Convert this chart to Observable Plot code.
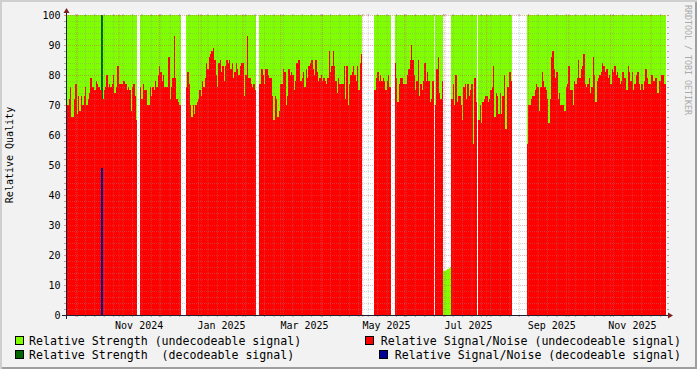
<!DOCTYPE html>
<html><head><meta charset="utf-8">
<script src="https://cdn.jsdelivr.net/npm/d3@7"></script>
<script src="https://cdn.jsdelivr.net/npm/@observablehq/plot@0.6"></script>
<style>
html,body{margin:0;padding:0;background:#f2f2f2;}
#wrap{position:relative;width:697px;height:369px;background:#f2f2f2;overflow:hidden;font-family:"DejaVu Sans Mono",monospace;color:#000;}
#chart{position:absolute;left:0;top:0;}
#shade{position:absolute;left:0;top:0;width:697px;height:369px;box-shadow:inset 2px 2px 0 #cfcfcf, inset -2px -2px 0 #9e9e9e;pointer-events:none;}
.lg{position:absolute;font-size:11.6px;line-height:14px;white-space:pre;}
.sw{position:absolute;width:9px;height:9px;box-sizing:border-box;border:1px solid #000;}
#ylab{position:absolute;left:10px;top:155px;font-size:10px;line-height:10px;white-space:pre;transform:translate(-50%,-50%) rotate(-90deg);}
#wm{position:absolute;left:683px;top:5px;font-size:8.3px;line-height:9px;writing-mode:vertical-rl;color:#aaa;white-space:pre;}
</style></head>
<body><div id="wrap"><div id="chart"></div>
<div id="ylab">Relative Quality</div>
<div id="wm">RRDTOOL / TOBI OETIKER</div>
<div id="legend"></div>
<div id="shade"></div></div>
<script>
// ---------- data ----------
// first day of each contiguous run of daily SNR (undecodeable) values
const segStarts = ["2024-09-23","2024-11-17","2024-12-21","2025-02-13","2025-05-10","2025-05-25","2025-06-24","2025-07-06","2025-07-26","2025-08-31"];
const snr1 = [77,70,72,76,66,66,72,77,67,73, 68,73,70,73,76,70,72,74,79,76, 76,75,78,77,76,75,75,72,75,76, 80,76,77,76,77,80,74,76,83,77, 77,77,78,78,77,75,76,75,68,76, 77,73,65];
const snr2 = [76,72,77,75,75,70,70,76,73,76, 75,78,76,80,83,81,78,80,76,76, 76,86,72,76,79,93,79,72,71,70];
const snr3 = [76,81,77,70,66,70,67,70,71,72, 75,73,78,76,79,84,82,86,87,88, 89,85,80,76,84,85,81,83,78,83, 85,84,85,82,84,79,81,84,82,80, 83,84,84,73,80,93,79,79,77,76, 77,75];
const snr4 = [77,77,82,80,77,82,82,80,79,79, 73,65,73,72,66,68,77,77,82,81, 70,73,82,80,81,80,75,78,84,85, 85,78,79,81,76,82,79,83,84,85, 82,80,85,81,78,79,80,78,79,78, 77,79,88,81,83,88,83,78,74,79, 77,77,77,83,72,83,70,77,80,81, 83,80,78,83,75,84,87];
const snr5 = [75,79,81,78,80,78,79,78,75,78,80,76];
const snr6 = [84,79,71,77,79,79,77,77,77,80, 82,85,90,85,80,75,78,85,73,77, 75,78,84,78,81,78,71,72,78];
const snr7 = [70,82,86,74,72,78];
const snr9 = [72,77,70,80,71,73,73,70,65,76, 77,72,77,73,75,77,57,79,71];
const snr10 = [65,70,64,71,72,73,73,71,72,75, 76,83,66,74,73,67,74,67,73,80, 62,76,76,81,78];
const snr11 = [57,70,70,72,73,73,75,77,76,68, 76,81,78,76,75,72,64,72,86,88, 82,79,81,72,74,70,70,70,68,76, 77,83,75,75,70,78,77,79,85,79, 82,83,87,77,76,77,79,74,76,86, 80,71,78,79,80,81,84,83,81,82, 79,80,77,82,81,83,80,81,79,77, 78,81,79,79,75,83,81,78,81,75, 77,80,81,77,75,77,75,78,82,79, 77,77,80,80,78,79,79,74,78,78, 80,80,77,77];
const snrSegments = [snr1,snr2,snr3,snr4,snr5,snr6,snr7,snr9,snr10,snr11];
// strength (undecodeable) reaches the top on every day with SNR data
const strengthOnSnrDays = 100;
// days with low strength and no SNR
const lowStrengthStart = "2025-06-30";
const lowStrength = [14.8,14.8,15,15.2,15.6,16];
// decodeable signal (single day)
const decodeDays = ["2024-10-19"];
const decodeStrength = [100];
const decodeSnr = [49];

const yLabelTicks = [0,10,20,30,40,50,60,70,80,90,100];
const xLabelDates = ["2024-11-15T22:00Z","2025-01-16T02:00Z","2025-03-18T17:00Z","2025-05-18T14:00Z","2025-07-18T10:00Z","2025-09-18T05:00Z","2025-11-17T02:00Z"];
const xLabelTexts = ["Nov 2024","Jan 2025","Mar 2025","May 2025","Jul 2025","Sep 2025","Nov 2025"];

const legendLabels = ["Relative Strength (undecodeable signal)","Relative Strength  (decodeable signal)","Relative Signal/Noise (undecodeable signal)","Relative Signal/Noise (decodeable signal)"];
const colors = {strengthU:"#80ff00", strengthD:"#006600", snrU:"#ff0000", snrD:"#000099"};

// ---------- build rows ----------
const DAY = 864e5;
const dayOf = s => new Date(s + "T00:00:00Z").getTime();
const strengthRows = [], snrRows = [];
snrSegments.forEach((arr, k) => {
  const s = dayOf(segStarts[k]);
  arr.forEach((v, j) => {
    const a = new Date(s + j*DAY), b = new Date(s + (j+1)*DAY);
    snrRows.push({x1:a, x2:b, v});
    strengthRows.push({x1:a, x2:b, v:strengthOnSnrDays});
  });
});
{
  const s = dayOf(lowStrengthStart);
  lowStrength.forEach((v, j) => strengthRows.push({x1:new Date(s+j*DAY), x2:new Date(s+(j+1)*DAY), v}));
}
const decStrRows = decodeDays.map((d,i)=>({x1:new Date(dayOf(d)), x2:new Date(dayOf(d)+DAY), v:decodeStrength[i]}));
const decSnrRows = decodeDays.map((d,i)=>({x1:new Date(dayOf(d)), x2:new Date(dayOf(d)+DAY), v:decodeSnr[i]}));

const xStart = new Date(Date.UTC(2024,8,23));
const xEnd = new Date(xStart.getTime() + 445.4*DAY);
const months = d3.utcMonth.range(xStart, xEnd).filter(d => d > xStart);
const monthSet = new Set(months.map(d=>+d));
const weeks = d3.utcMonday.range(xStart, xEnd).filter(d => d > xStart && !monthSet.has(+d));
const yMinor = d3.range(2, 100, 2).filter(v => v % 10 !== 0);
const yMajor = d3.range(10, 101, 10);
const labelDates = xLabelDates.map(s => new Date(s));

const gridMinor = {stroke:"#8f8f8f", strokeOpacity:0.38};
const gridMajor = {stroke:"#de4f4f", strokeOpacity:0.45};
const tickMinor = {stroke:"#8f8f8f", strokeOpacity:0.75};
const tickMajor = {stroke:"#de4f4f", strokeOpacity:0.6};
const rectOpts = (fill) => ({x1:"x1", x2:"x2", y1:0, y2:"v", fill, clip:true, shapeRendering:"crispEdges"});

const plot = Plot.plot({
  width: 697, height: 335,
  marginLeft: 66, marginRight: 31, marginTop: 15, marginBottom: 20,
  style: {background:"transparent", fontFamily:"'DejaVu Sans Mono', monospace", fontSize:"10px", color:"#000", overflow:"visible"},
  x: {type:"utc", domain:[xStart, xEnd], axis:null},
  y: {domain:[0,100], axis:null, label:null},
  marks: [
    Plot.frame({fill:"#ffffff", stroke:"none"}),
    Plot.rect(strengthRows, rectOpts(colors.strengthU)),
    Plot.rect(decStrRows, {...rectOpts(colors.strengthD), insetLeft:-0.3, insetRight:-0.3}),
    Plot.rect(snrRows, rectOpts(colors.snrU)),
    Plot.rect(decSnrRows, {...rectOpts(colors.snrD), insetLeft:-0.3, insetRight:-0.3}),
    Plot.ruleY(yMinor, {...gridMinor, strokeDasharray:"1,1"}),
    Plot.ruleY(yMajor, {...gridMajor, strokeDasharray:"1,1"}),
    Plot.ruleX(weeks, {y1:0, y2:100, ...gridMinor, strokeDasharray:"1,1"}),
    Plot.ruleX(months, {y1:0, y2:100, ...gridMajor, strokeDasharray:"1,1"}),
    Plot.axisY(yMinor, {anchor:"left", tickSize:2, tickFormat:()=>"", label:null, ...tickMinor}),
    Plot.axisY(yMinor, {anchor:"right", tickSize:2, tickFormat:()=>"", label:null, ...tickMinor}),
    Plot.axisY(yMajor, {anchor:"left", tickSize:2, tickFormat:()=>"", label:null, ...tickMajor}),
    Plot.axisY(yMajor, {anchor:"right", tickSize:2, tickFormat:()=>"", label:null, ...tickMajor}),
    Plot.axisX(weeks, {anchor:"bottom", tickSize:2, tickFormat:()=>"", label:null, ...tickMinor}),
    Plot.axisX(weeks, {anchor:"top", tickSize:2, tickFormat:()=>"", label:null, ...tickMinor}),
    Plot.axisX(months, {anchor:"bottom", tickSize:2, tickFormat:()=>"", label:null, ...tickMajor}),
    Plot.axisX(months, {anchor:"top", tickSize:2, tickFormat:()=>"", label:null, ...tickMajor}),
    Plot.axisY(yLabelTicks, {anchor:"left", tickSize:0, tickPadding:6, label:null, fill:"#000"}),
    Plot.axisX(labelDates, {anchor:"bottom", tickSize:0, tickPadding:6, label:null, fill:"#000", tickFormat:(d,i)=>xLabelTexts[i]})
  ]
});
document.getElementById("chart").appendChild(plot);

// axis lines and arrows (rrdtool style), positioned from the Plot scales
const sx = plot.scale("x"), sy = plot.scale("y");
const X0 = Math.round(sx.range[0]), X1 = Math.round(sx.range[1]);
const Y0 = Math.round(sy.range[0]), Y1 = Math.round(sy.range[1]);
const svg = d3.select(plot);
const g = svg.append("g");
g.append("line").attr("x1", X0-4).attr("x2", X1+4).attr("y1", Y0+0.5).attr("y2", Y0+0.5).attr("stroke","#1f1f2f");
g.append("line").attr("x1", X0+0.5).attr("x2", X0+0.5).attr("y1", Y0+4).attr("y2", Y1-4).attr("stroke","#1f1f2f");
g.append("polygon").attr("points", `${X1+2},${Y0-2.5} ${X1+2},${Y0+3.5} ${X1+7},${Y0+0.5}`).attr("fill","#801f1f");
g.append("polygon").attr("points", `${X0-2.5},${Y1-2} ${X0+3.5},${Y1-2} ${X0+0.5},${Y1-7}`).attr("fill","#801f1f");

// legend
const lg = document.getElementById("legend");
const items = [
  {label:legendLabels[0], color:colors.strengthU, sw:{left:15, top:336}, tx:{left:29, top:333.5}},
  {label:legendLabels[1], color:colors.strengthD, sw:{left:15, top:350}, tx:{left:29, top:347.5}},
  {label:legendLabels[2], color:colors.snrU, sw:{left:365, top:336}, tx:{right:16, top:333.5}},
  {label:legendLabels[3], color:colors.snrD, sw:{left:379, top:350}, tx:{right:16, top:347.5}}
];
items.forEach(it => {
  const s = document.createElement("div");
  s.className = "sw"; s.style.left = it.sw.left+"px"; s.style.top = it.sw.top+"px"; s.style.background = it.color;
  lg.appendChild(s);
  const t = document.createElement("div");
  t.className = "lg"; t.textContent = it.label; t.style.top = it.tx.top+"px";
  if (it.tx.left != null) t.style.left = it.tx.left+"px"; else t.style.right = it.tx.right+"px";
  lg.appendChild(t);
});
</script></body></html>
